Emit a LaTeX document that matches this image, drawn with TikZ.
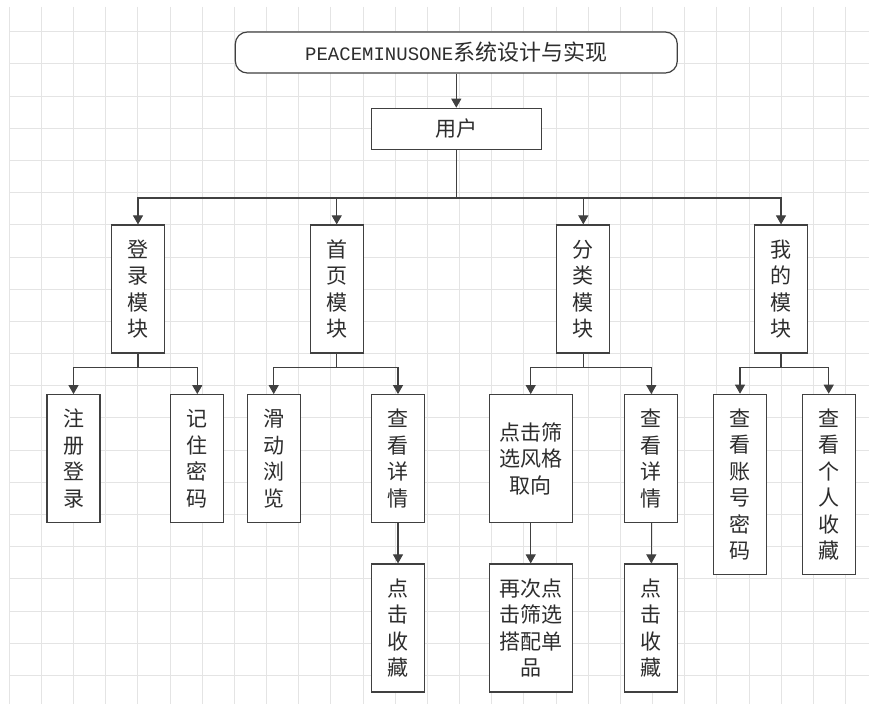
\documentclass[tikz,border=0pt]{standalone}
\usepackage{fontspec}
\setmainfont{Noto Sans CJK SC}
\newfontfamily\latinfont{Liberation Mono}
\usetikzlibrary{arrows.meta}
\definecolor{gridline}{RGB}{228,228,228}
\definecolor{linegray}{RGB}{64,64,64}
\definecolor{textgray}{RGB}{45,45,45}

\begin{document}
\begin{tikzpicture}[x=1pt, y=-1pt,
        box/.style = {draw=linegray, line width=1.2pt, fill=white, inner sep=0pt,
            minimum width=53pt, minimum height=128pt, align=center, text=textgray,
            font=\fontsize{21}{26.5}\selectfont},
        tallbox/.style = {box, minimum height=180pt},
        widebox/.style = {box, minimum width=83pt},
        headbox/.style = {box, minimum height=41pt},
        arr/.style = {draw=linegray, line width=1.1pt, -{Triangle[width=10pt,length=9pt]}},
        ]
        \useasboundingbox (0,0) rectangle (869,704);
        % grid
        \foreach \i in {0,...,26}
            \draw[gridline, line width=0.9pt] (9.3+32.16*\i,6.7) -- (9.3+32.16*\i,704);
        \foreach \j in {0,...,20}
            \draw[gridline, line width=0.9pt] (9.3,31.7+32.18*\j) -- (869,31.7+32.18*\j);

        \node[headbox, rounded corners=12pt, minimum width=442pt] (sys) at (456.3,52.5)
            {{\latinfont\fontsize{19}{19}\selectfont PEACEMINUSONE}\fontsize{22}{22}\selectfont 系统设计与实现};
        \node[headbox, minimum width=170pt] (user) at (456.3,128.8) {用户};
        \coordinate (bus0) at (0,198);
        \coordinate (bus1) at (0,367.3);

        \node[box] (login) at (138,289) {登\\录\\模\\块};
        \node[box] (home) at (336.7,289) {首\\页\\模\\块};
        \node[box] (cat) at (583.3,289) {分\\类\\模\\块};
        \node[box] (mine) at (781,289) {我\\的\\模\\块};

        \node[box] (reg) at (73.5,458.7) {注\\册\\登\\录};
        \node[box] (remember) at (197.3,458.7) {记\\住\\密\\码};
        \node[box] (slide) at (273.7,458.7) {滑\\动\\浏\\览};
        \node[box] (detailA) at (398,458.7) {查\\看\\详\\情};
        \node[widebox] (filter) at (530.7,458.7) {点击筛\\选风格\\取向};
        \node[box] (detailB) at (651.3,458.7) {查\\看\\详\\情};
        \node[tallbox] (account) at (740,484.3) {查\\看\\账\\号\\密\\码};
        \node[tallbox] (favs) at (828.7,484.3) {查\\看\\个\\人\\收\\藏};

        \node[box] (favA) at (398,628) {点\\击\\收\\藏};
        \node[widebox] (combo) at (530.7,628) {再次点\\击筛选\\搭配单\\品};
        \node[box] (favB) at (651.3,628) {点\\击\\收\\藏};

        \draw[arr] (sys) -- (user);
        \foreach \m in {login, home, cat, mine}
            \draw[arr] (user) -- (user |- bus0) -| (\m);
        \draw[arr] (login) -- (login |- bus1) -| (reg);
        \draw[arr] (login) -- (login |- bus1) -| (remember);
        \draw[arr] (home) -- (home |- bus1) -| (slide);
        \draw[arr] (home) -- (home |- bus1) -| (detailA);
        \draw[arr] (cat) -- (cat |- bus1) -| (filter);
        \draw[arr] (cat) -- (cat |- bus1) -| (detailB);
        \draw[arr] (mine) -- (mine |- bus1) -| (account);
        \draw[arr] (mine) -- (mine |- bus1) -| (favs);

        \draw[arr] (detailA) -- (favA);
        \draw[arr] (filter) -- (combo);
        \draw[arr] (detailB) -- (favB);
    \end{tikzpicture}
\end{document}
